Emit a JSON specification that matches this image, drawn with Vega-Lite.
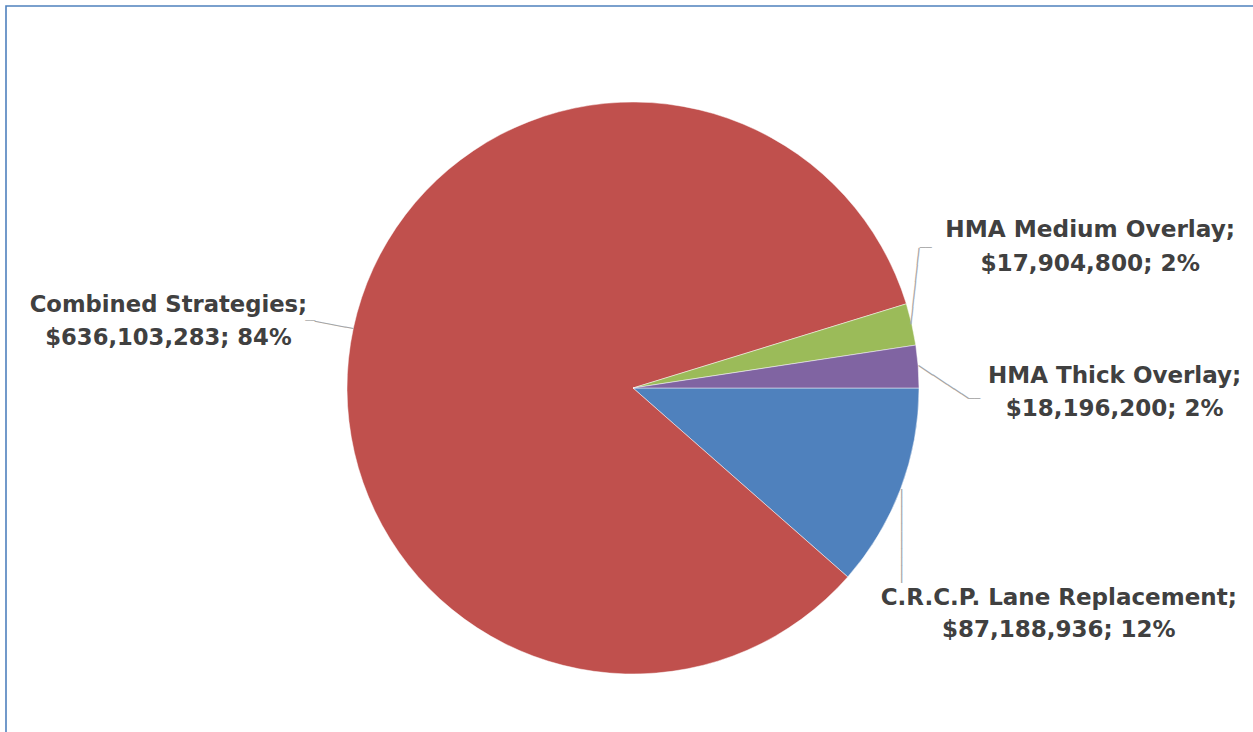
{
  "$schema": "https://vega.github.io/schema/vega-lite/v6.json",
  "width": 1254,
  "height": 764,
  "padding": {"left": 6, "top": 6, "right": 0, "bottom": 0},
  "autosize": {"type": "none"},
  "background": "#ffffff",
  "view": {"stroke": "#4F81BD", "strokeWidth": 1.6, "fill": "#ffffff"},
  "data": {
    "values": [
      {"name": "C.R.C.P. Lane Replacement", "cost": 87188936, "label": "C.R.C.P. Lane Replacement;\n$87,188,936; 12%"},
      {"name": "Combined Strategies", "cost": 636103283, "label": "Combined Strategies;\n$636,103,283; 84%"},
      {"name": "HMA Medium Overlay", "cost": 17904800, "label": "HMA Medium Overlay;\n$17,904,800; 2%"},
      {"name": "HMA Thick Overlay", "cost": 18196200, "label": "HMA Thick Overlay;\n$18,196,200; 2%"}
    ]
  },
  "encoding": {
    "theta": {"field": "cost", "type": "quantitative", "stack": true, "scale": {"range": [1.5707963, 7.8539816]}}
  },
  "layer": [
    {
      "mark": {"type": "arc", "outerRadius": 286, "stroke": "#ffffff", "strokeWidth": 0.6, "strokeOpacity": 0.8},
      "encoding": {
        "color": {
          "field": "name", "type": "nominal", "legend": null,
          "scale": {
            "domain": ["C.R.C.P. Lane Replacement", "Combined Strategies", "HMA Medium Overlay", "HMA Thick Overlay"],
            "range": ["#4F81BD", "#C0504D", "#9BBB59", "#8064A2"]
          }
        }
      }
    },
    {
      "mark": {"type": "text", "radius": 286, "angle": 190.5, "align": "left", "baseline": "middle", "font": "DejaVu Sans", "fontSize": 13, "fill": "#A6A6A6"},
      "encoding": {
        "text": {"value": "─────"},
        "opacity": {"condition": {"test": "datum.name === 'Combined Strategies'", "value": 1}, "value": 0}
      }
    },
    {
      "mark": {"type": "text", "radius": 286, "angle": 0, "dx": -38, "dy": -7, "align": "right", "baseline": "middle", "font": "DejaVu Sans", "fontSize": 8.3, "fill": "#A6A6A6"},
      "encoding": {
        "text": {"value": "──"},
        "opacity": {"condition": {"test": "datum.name === 'Combined Strategies'", "value": 1}, "value": 0}
      }
    },
    {
      "mark": {"type": "text", "radius": 286, "angle": 276.1, "align": "left", "baseline": "middle", "font": "DejaVu Sans", "fontSize": 14.15, "fill": "#A6A6A6"},
      "encoding": {
        "text": {"value": "─────────"},
        "opacity": {"condition": {"test": "datum.name === 'HMA Medium Overlay'", "value": 1}, "value": 0}
      }
    },
    {
      "mark": {"type": "text", "radius": 286, "angle": 0, "dx": 8, "dy": -76, "align": "left", "baseline": "middle", "font": "DejaVu Sans", "fontSize": 10, "fill": "#A6A6A6"},
      "encoding": {
        "text": {"value": "──"},
        "opacity": {"condition": {"test": "datum.name === 'HMA Medium Overlay'", "value": 1}, "value": 0}
      }
    },
    {
      "mark": {"type": "text", "radius": 286, "angle": 33.1, "align": "left", "baseline": "middle", "font": "DejaVu Sans", "fontSize": 14.1, "fill": "#A6A6A6"},
      "encoding": {
        "text": {"value": "───────"},
        "opacity": {"condition": {"test": "datum.name === 'HMA Thick Overlay'", "value": 1}, "value": 0}
      }
    },
    {
      "mark": {"type": "text", "radius": 286, "angle": 0, "dx": 50, "dy": 32.5, "align": "left", "baseline": "middle", "font": "DejaVu Sans", "fontSize": 10, "fill": "#A6A6A6"},
      "encoding": {
        "text": {"value": "──"},
        "opacity": {"condition": {"test": "datum.name === 'HMA Thick Overlay'", "value": 1}, "value": 0}
      }
    },
    {
      "mark": {"type": "text", "radius": 286, "angle": 90, "align": "left", "baseline": "middle", "font": "DejaVu Sans", "fontSize": 14.2, "fill": "#A6A6A6"},
      "encoding": {
        "text": {"value": "───────────"},
        "opacity": {"condition": {"test": "datum.name === 'C.R.C.P. Lane Replacement'", "value": 1}, "value": 0}
      }
    },
    {
      "mark": {"type": "text", "radius": 470, "dx": -5, "dy": 16, "align": "center", "baseline": "middle", "lineBreak": "\n", "font": "DejaVu Sans", "fontWeight": "bold", "fontSize": 22.7, "lineHeight": 33, "fill": "#404040"},
      "encoding": {
        "text": {"field": "label"},
        "opacity": {"condition": {"test": "datum.name === 'Combined Strategies'", "value": 1}, "value": 0}
      }
    },
    {
      "mark": {"type": "text", "radius": 470, "dx": -1, "dy": -53, "align": "center", "baseline": "middle", "lineBreak": "\n", "font": "DejaVu Sans", "fontWeight": "bold", "fontSize": 23.2, "lineHeight": 34, "fill": "#404040"},
      "encoding": {
        "text": {"field": "label"},
        "opacity": {"condition": {"test": "datum.name === 'HMA Medium Overlay'", "value": 1}, "value": 0}
      }
    },
    {
      "mark": {"type": "text", "radius": 480, "dx": 3, "dy": 24, "align": "center", "baseline": "middle", "lineBreak": "\n", "font": "DejaVu Sans", "fontWeight": "bold", "fontSize": 23, "lineHeight": 33, "fill": "#404040"},
      "encoding": {
        "text": {"field": "label"},
        "opacity": {"condition": {"test": "datum.name === 'HMA Thick Overlay'", "value": 1}, "value": 0}
      }
    },
    {
      "mark": {"type": "text", "radius": 470, "dx": -14, "dy": 44, "align": "center", "baseline": "middle", "lineBreak": "\n", "font": "DejaVu Sans", "fontWeight": "bold", "fontSize": 23, "lineHeight": 32, "fill": "#404040"},
      "encoding": {
        "text": {"field": "label"},
        "opacity": {"condition": {"test": "datum.name === 'C.R.C.P. Lane Replacement'", "value": 1}, "value": 0}
      }
    }
  ]
}
